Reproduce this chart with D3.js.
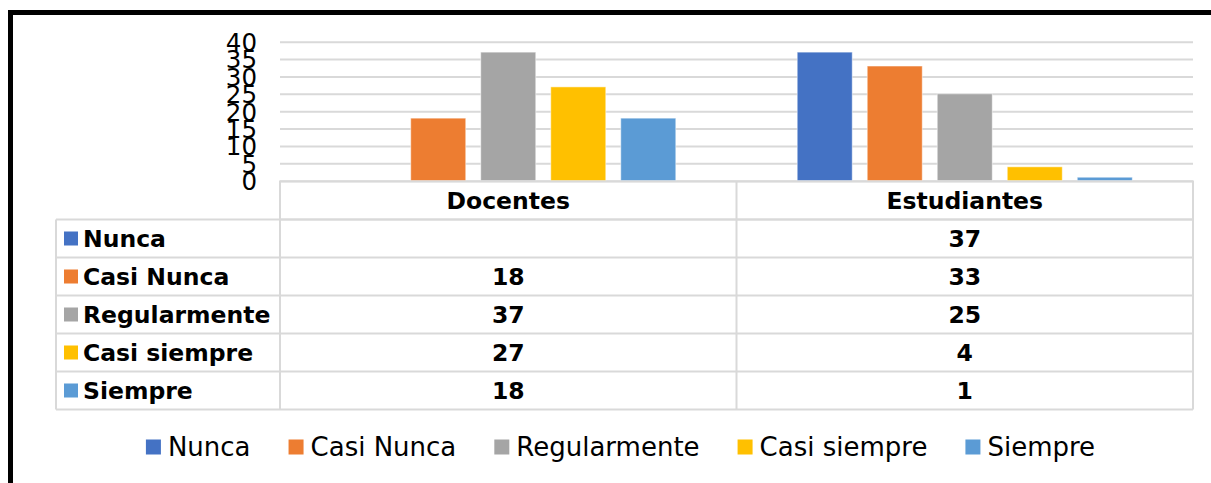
<!DOCTYPE html>
<html>
<head>
<meta charset="utf-8">
<script src="https://cdn.jsdelivr.net/npm/d3@7"></script>
<style>
  body { margin: 0; background: #fff; }
  svg { display: block; font-family: "DejaVu Sans", Verdana, sans-serif; }
</style>
</head>
<body>
<div class="js-chart"></div>
<script>
var categories = ['Docentes', 'Estudiantes'];
var seriesNames = ['Nunca', 'Casi Nunca', 'Regularmente', 'Casi siempre', 'Siempre'];
var seriesColors = ['#4472C4', '#ED7D31', '#A5A5A5', '#FFC000', '#5B9BD5'];
// one array per series: [Docentes, Estudiantes]; null = empty cell
var nunca = [null, 37];
var casiNunca = [18, 33];
var regularmente = [37, 25];
var casiSiempre = [27, 4];
var siempre = [18, 1];
var yTicks = [0, 5, 10, 15, 20, 25, 30, 35, 40];

var seriesValues = [nunca, casiNunca, regularmente, casiSiempre, siempre];

var width = 1211, height = 483;
var plot = { left: 280, right: 1193, top: 41.7, bottom: 180.7 };
var table = { left: 56, top: 181.5, rowH: 38 };
var gridColor = '#d9d9d9';

var svg = d3.select('.js-chart')
  .append('svg')
  .attr('width', width)
  .attr('height', height);

// outer frame (only top and left edges inside the view)
svg.append('rect')
  .attr('x', 10.5).attr('y', 12.5)
  .attr('width', 1400).attr('height', 700)
  .attr('fill', 'none')
  .attr('stroke', '#000')
  .attr('stroke-width', 5);

var y = d3.scaleLinear().domain([0, 40]).range([plot.bottom, plot.top]);
var x0 = d3.scaleBand().domain(categories).range([plot.left, plot.right]);
var x1 = d3.scaleBand().domain(seriesNames)
  .range([0, x0.bandwidth()])
  .paddingInner(0.214)
  .paddingOuter(0.867);

// y axis with gridlines
var yAxis = svg.append('g')
  .attr('transform', 'translate(' + plot.left + ',0)')
  .call(d3.axisLeft(y)
    .tickValues(yTicks)
    .tickSize(-(plot.right - plot.left))
    .tickPadding(23));

yAxis.select('.domain').remove();
yAxis.selectAll('.tick line')
  .attr('stroke', gridColor)
  .attr('stroke-width', 2);
yAxis.selectAll('.tick text')
  .attr('fill', '#000')
  .attr('font-size', '24.5px')
  .attr('font-family', '"DejaVu Sans", Verdana, sans-serif')
  .attr('dy', '0.36em');

// bars
var groups = svg.selectAll('.cat')
  .data(categories)
  .enter()
  .append('g')
  .classed('cat', true)
  .attr('transform', function(d) { return 'translate(' + x0(d) + ',0)'; });

groups.selectAll('rect')
  .data(function(d, ci) {
    return seriesNames.map(function(s, si) {
      return { series: s, value: seriesValues[si][ci], color: seriesColors[si] };
    }).filter(function(b) { return b.value != null; });
  })
  .enter()
  .append('rect')
  .attr('x', function(d) { return x1(d.series); })
  .attr('y', function(d) { return y(d.value); })
  .attr('width', x1.bandwidth())
  .attr('height', function(d) { return y(0) - y(d.value); })
  .attr('fill', function(d) { return d.color; })
  .attr('stroke', 'rgba(255,255,255,0.5)')
  .attr('stroke-width', 1);

// data table
var tbl = svg.append('g');
var rowTop = function(i) { return table.top + table.rowH * (i + 1); };
var tableBottom = rowTop(seriesNames.length);

// header row (category names)
tbl.append('rect')
  .attr('x', plot.left).attr('y', table.top)
  .attr('width', plot.right - plot.left).attr('height', table.rowH)
  .attr('fill', 'none').attr('stroke', gridColor).attr('stroke-width', 2);

tbl.selectAll('.hdr')
  .data(categories)
  .enter()
  .append('text')
  .attr('x', function(d) { return x0(d) + x0.bandwidth() / 2; })
  .attr('y', table.top + table.rowH / 2 + 8.5)
  .attr('text-anchor', 'middle')
  .attr('font-weight', 'bold')
  .attr('font-size', '23.5px')
  .text(function(d) { return d; });

// body rows
tbl.selectAll('.row-line')
  .data(d3.range(seriesNames.length + 1))
  .enter()
  .append('line')
  .attr('x1', table.left).attr('x2', plot.right)
  .attr('y1', function(i) { return table.top + table.rowH * (i + 1); })
  .attr('y2', function(i) { return table.top + table.rowH * (i + 1); })
  .attr('stroke', gridColor).attr('stroke-width', 2);

[table.left, plot.left, x0(categories[1]), plot.right].forEach(function(xv, k) {
  tbl.append('line')
    .attr('x1', xv).attr('x2', xv)
    .attr('y1', k === 0 ? rowTop(0) : table.top)
    .attr('y2', tableBottom)
    .attr('stroke', gridColor).attr('stroke-width', 2);
});

var rows = tbl.selectAll('.trow')
  .data(seriesNames)
  .enter()
  .append('g')
  .attr('transform', function(d, i) { return 'translate(0,' + rowTop(i) + ')'; });

rows.append('rect')
  .attr('x', 64).attr('y', table.rowH / 2 - 7)
  .attr('width', 14).attr('height', 14)
  .attr('fill', function(d, i) { return seriesColors[i]; });

rows.append('text')
  .attr('x', 83)
  .attr('y', table.rowH / 2 + 8)
  .attr('font-weight', 'bold')
  .attr('font-size', '23.5px')
  .text(function(d) { return d; });

rows.selectAll('.val')
  .data(function(d, i) { return seriesValues[i]; })
  .enter()
  .append('text')
  .attr('x', function(d, ci) { return x0(categories[ci]) + x0.bandwidth() / 2; })
  .attr('y', table.rowH / 2 + 8)
  .attr('text-anchor', 'middle')
  .attr('font-weight', 'bold')
  .attr('font-size', '23.5px')
  .text(function(d) { return d == null ? '' : d; });

// bottom legend
var legend = svg.append('g');
var items = legend.selectAll('.li')
  .data(seriesNames)
  .enter()
  .append('g');

items.append('rect')
  .attr('y', 439.5)
  .attr('width', 15).attr('height', 15)
  .attr('fill', function(d, i) { return seriesColors[i]; });

items.append('text')
  .attr('x', 22)
  .attr('y', 455.5)
  .attr('font-size', '26px')
  .text(function(d) { return d; });

var pos = 0, offsets = [];
items.each(function() {
  offsets.push(pos);
  pos += 22 + this.querySelector('text').getComputedTextLength() + 38;
});
var total = pos - 38;
var startX = 620.5 - total / 2;
items.attr('transform', function(d, i) { return 'translate(' + (startX + offsets[i]) + ',0)'; });
</script>
</body>
</html>
